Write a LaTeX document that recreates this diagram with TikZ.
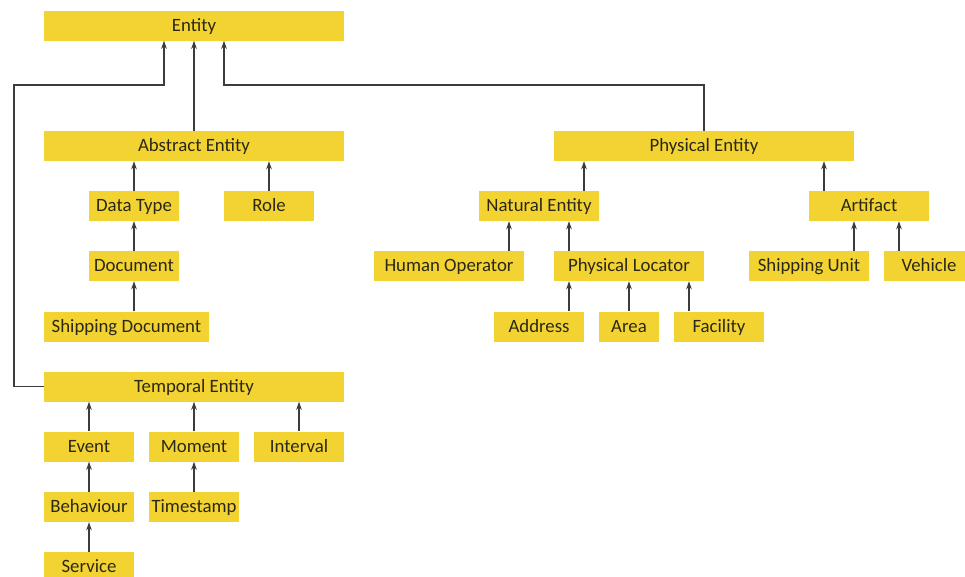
\documentclass[tikz,border=0pt]{standalone}
\usepackage{fontspec}
\setmainfont{Carlito}
\usetikzlibrary{arrows.meta}
\definecolor{boxyellow}{HTML}{F3D331}
\definecolor{txt}{HTML}{2B2818}
\definecolor{linec}{HTML}{3C3C3C}
\begin{document}
\begin{tikzpicture}[x=1pt,y=-1pt,
  box/.style={fill=boxyellow, draw=none, minimum height=30pt, inner sep=0pt,
    text height=13.5pt, text depth=2.5pt,
    text=txt, font=\fontsize{18.8}{21}\selectfont},
  w90/.style={box, minimum width=90pt},
  w60/.style={box, minimum width=60pt},
  w120/.style={box, minimum width=120pt},
  w150/.style={box, minimum width=150pt},
  w165/.style={box, minimum width=165pt},
  w300/.style={box, minimum width=300pt},
  arr/.style={draw=linec, line width=1.4pt, -{Stealth[length=8pt,width=5.5pt]}}]
\useasboundingbox (0,0) rectangle (965,576);
\clip (0,0) rectangle (965,576);
\fill[white] (0,0) rectangle (965,576);
% left tree
\node[w300] (entity) at (194,25.5) {Entity};
\node[w300] (abstract) at (194,146) {Abstract Entity};
\node[w90] (datatype) at (134,206) {Data Type};
\node[w90] (role) at (269,206) {Role};
\node[w90] (document) at (134,266) {Document};
\node[w165] (shipdoc) at (126.5,326.5) {Shipping Document};
\node[w300] (temporal) at (194,386.5) {Temporal Entity};
\node[w90] (event) at (89,446.5) {Event};
\node[w90] (moment) at (194,446.5) {Moment};
\node[w90] (interval) at (299,446.5) {Interval};
\node[w90] (behaviour) at (89,507) {Behaviour};
\node[w90] (timestamp) at (194,507) {Timestamp};
\node[w90] (service) at (89,567) {Service};
% right tree
\node[w300] (physical) at (704,146) {Physical Entity};
\node[w120] (natural) at (539,206) {Natural Entity};
\node[w120] (artifact) at (869,206) {Artifact};
\node[w150] (human) at (449,266) {Human Operator};
\node[w150] (physloc) at (629,266) {Physical Locator};
\node[w120] (shipunit) at (809,266) {Shipping Unit};
\node[w90] (vehicle) at (929,266) {Vehicle};
\node[w90] (address) at (539,326.5) {Address};
\node[w60] (area) at (629,326.5) {Area};
\node[w90] (facility) at (719,326.5) {Facility};
% routing points
\coordinate (lroute) at (14,85);
\coordinate (rroute) at (704,85);
% connectors to Entity
\draw[arr] (abstract.north) -- (entity.south);
\draw[arr] (temporal.west) -| (lroute) -| ([xshift=-30pt]entity.south);
\draw[arr] (physical.north) -- (rroute) -| ([xshift=30pt]entity.south);
% abstract subtree
\draw[arr] (datatype.north) -- (datatype.north |- abstract.south);
\draw[arr] (role.north) -- (role.north |- abstract.south);
\draw[arr] (document.north) -- (datatype.south);
\draw[arr] (document.south |- shipdoc.north) -- (document.south);
% temporal subtree
\draw[arr] (event.north) -- (event.north |- temporal.south);
\draw[arr] (moment.north) -- (moment.north |- temporal.south);
\draw[arr] (interval.north) -- (interval.north |- temporal.south);
\draw[arr] (behaviour.north) -- (event.south);
\draw[arr] (timestamp.north) -- (moment.south);
\draw[arr] (service.north) -- (behaviour.south);
% physical subtree
\draw[arr] ([xshift=45pt]natural.north) -- ([xshift=45pt]natural.north |- physical.south);
\draw[arr] ([xshift=-45pt]artifact.north) -- ([xshift=-45pt]artifact.north |- physical.south);
\draw[arr] ([xshift=60pt]human.north) -- ([xshift=60pt]human.north |- natural.south);
\draw[arr] ([xshift=-60pt]physloc.north) -- ([xshift=-60pt]physloc.north |- natural.south);
\draw[arr] ([xshift=30pt]address.north) -- ([xshift=30pt]address.north |- physloc.south);
\draw[arr] (area.north) -- (physloc.south);
\draw[arr] ([xshift=-30pt]facility.north) -- ([xshift=-30pt]facility.north |- physloc.south);
\draw[arr] ([xshift=45pt]shipunit.north) -- ([xshift=45pt]shipunit.north |- artifact.south);
\draw[arr] ([xshift=-30pt]vehicle.north) -- ([xshift=-30pt]vehicle.north |- artifact.south);
\end{tikzpicture}
\end{document}
